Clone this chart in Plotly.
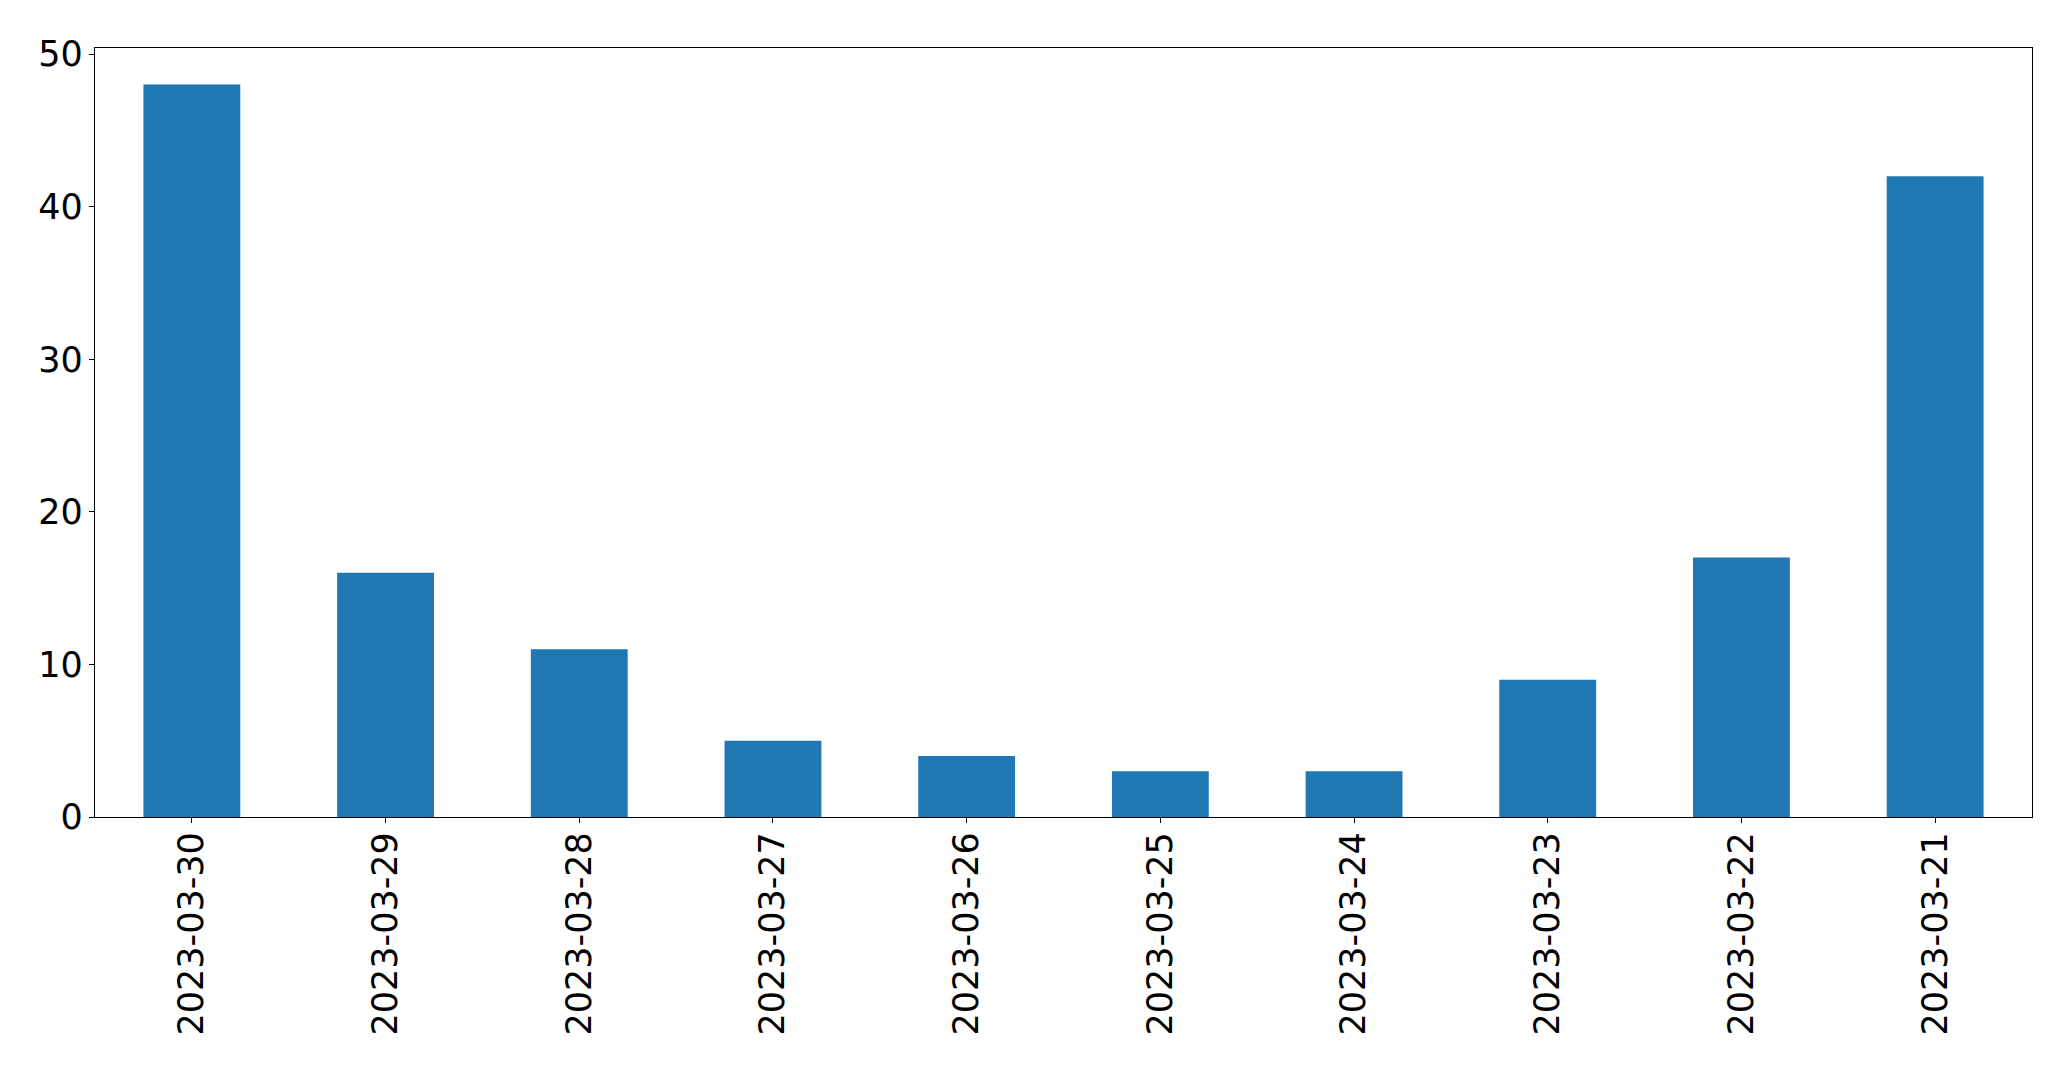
import plotly.graph_objects as go

categories = ["2023-03-30", "2023-03-29", "2023-03-28", "2023-03-27", "2023-03-26",
              "2023-03-25", "2023-03-24", "2023-03-23", "2023-03-22", "2023-03-21"]
values = [48, 16, 11, 5, 4, 3, 3, 9, 17, 42]
y_ticks = [0, 10, 20, 30, 40, 50]

fig = go.Figure(go.Bar(x=categories, y=values, marker_color="#1f77b4",
                       marker_line_width=0, width=0.5))

font = dict(family="DejaVu Sans", size=35, color="black")
fig.update_layout(
    width=2063, height=1061,
    margin=dict(l=87, r=39, t=40, b=252, autoexpand=False),
    paper_bgcolor="white", plot_bgcolor="white",
    font=font, showlegend=False,
)
fig.update_xaxes(
    type="category", range=[-0.5, 9.5], tickangle=-90,
    showline=True, linecolor="black", linewidth=1.3, mirror=True,
    ticks="outside", ticklen=5, tickwidth=1.3, tickcolor="black",
    showgrid=False, zeroline=False, tickfont=font, ticklabelstandoff=-5,
    automargin=False,
)
fig.update_yaxes(
    range=[0, 50.4], tickvals=y_ticks,
    showline=True, linecolor="black", linewidth=1.3, mirror=True,
    ticks="outside", ticklen=5, tickwidth=1.3, tickcolor="black",
    showgrid=False, zeroline=False, tickfont=font, ticklabelstandoff=-1,
    automargin=False,
)
fig.write_html("out.html")
